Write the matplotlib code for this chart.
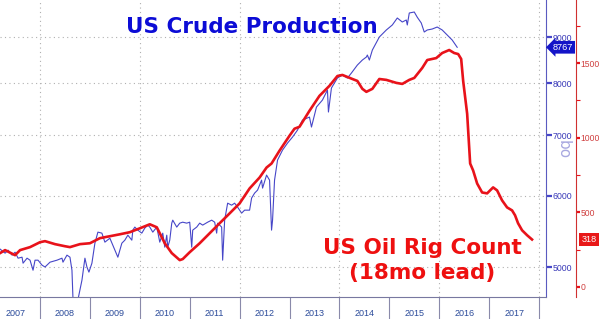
import matplotlib
matplotlib.use('Agg')
import matplotlib.pyplot as plt
import matplotlib.ticker as ticker
import numpy as np

# US crude production (kb/d), weekly-ish readings, decimal years
prod_years = [2007.20, 2007.30, 2007.36, 2007.44, 2007.50, 2007.56, 2007.64, 2007.66, 2007.74, 2007.80,
              2007.86, 2007.90, 2007.96, 2008.04, 2008.10, 2008.20, 2008.34, 2008.44, 2008.46, 2008.54,
              2008.60, 2008.64, 2008.68, 2008.72, 2008.76, 2008.84, 2008.90, 2008.94, 2008.98, 2009.04,
              2009.10, 2009.16, 2009.24, 2009.30, 2009.40, 2009.50, 2009.56, 2009.64, 2009.70, 2009.76,
              2009.84, 2009.86, 2009.90, 2009.96, 2010.04, 2010.10, 2010.16, 2010.20, 2010.26, 2010.34,
              2010.40, 2010.46, 2010.50, 2010.54, 2010.56, 2010.60, 2010.64, 2010.66, 2010.74, 2010.80,
              2010.86, 2010.94, 2011.00, 2011.04, 2011.06, 2011.14, 2011.20, 2011.26, 2011.36, 2011.44,
              2011.50, 2011.54, 2011.56, 2011.64, 2011.66, 2011.70, 2011.76, 2011.84, 2011.90, 2011.96,
              2012.04, 2012.10, 2012.20, 2012.24, 2012.30, 2012.36, 2012.44, 2012.46, 2012.54, 2012.60,
              2012.64, 2012.66, 2012.70, 2012.76, 2012.86, 2012.96, 2013.06, 2013.16, 2013.26, 2013.40,
              2013.44, 2013.54, 2013.66, 2013.76, 2013.78, 2013.84, 2013.96, 2014.06, 2014.16, 2014.24,
              2014.36, 2014.46, 2014.54, 2014.56, 2014.60, 2014.66, 2014.80, 2014.94, 2015.06, 2015.16,
              2015.26, 2015.34, 2015.36, 2015.40, 2015.50, 2015.56, 2015.64, 2015.70, 2015.76, 2015.86,
              2015.96, 2016.06, 2016.16, 2016.26, 2016.36]
prod_values = [5234, 5180, 5220, 5154, 5193, 5114, 5127, 5049, 5114, 5088,
               4959, 5088, 5088, 5024, 5000, 5062, 5088, 5114, 5062, 5154,
               5127, 4959, 4300, 4350, 4600, 4834, 5114, 5000, 4935, 5049,
               5314, 5466, 5452, 5328, 5382, 5220, 5127, 5314, 5355, 5424,
               5355, 5494, 5537, 5494, 5452, 5523, 5565, 5537, 5466, 5537,
               5328, 5452, 5260, 5424, 5260, 5355, 5593, 5636, 5537, 5593,
               5607, 5593, 5607, 5260, 5494, 5537, 5593, 5565, 5607, 5636,
               5607, 5452, 5593, 5537, 5088, 5636, 5886, 5856, 5886, 5826,
               5738, 5782, 5782, 5963, 6039, 6086, 6243, 6117, 6324, 6243,
               5494, 5636, 6243, 6571, 6741, 6863, 6969, 7095, 7278, 7335,
               7150, 7525, 7661, 7860, 7430, 7900, 8104, 8167, 8104, 8208,
               8378, 8486, 8551, 8595, 8486, 8705, 9000, 9163, 9281, 9448,
               9352, 9400, 9281, 9570, 9594, 9467, 9329, 9116, 9163, 9186,
               9233, 9163, 9046, 8931, 8767]

# US oil rig count, shifted forward 18 months (lead)
rig_years = [2007.20, 2007.30, 2007.50, 2007.60, 2007.80, 2008.00, 2008.10, 2008.30, 2008.50, 2008.60,
             2008.80, 2009.00, 2009.20, 2009.40, 2009.60, 2009.80, 2010.00, 2010.20, 2010.34, 2010.50,
             2010.64, 2010.80, 2010.86, 2011.00, 2011.20, 2011.40, 2011.60, 2011.80, 2012.00, 2012.20,
             2012.40, 2012.54, 2012.64, 2012.80, 2013.00, 2013.10, 2013.20, 2013.40, 2013.60, 2013.80,
             2013.96, 2014.06, 2014.26, 2014.36, 2014.46, 2014.54, 2014.66, 2014.80, 2014.94, 2015.14,
             2015.26, 2015.40, 2015.50, 2015.66, 2015.76, 2015.94, 2016.06, 2016.20, 2016.30, 2016.38,
             2016.44, 2016.48, 2016.56, 2016.62, 2016.68, 2016.76, 2016.86, 2016.96, 2017.02, 2017.08,
             2017.16, 2017.26, 2017.36, 2017.46, 2017.52, 2017.58, 2017.66, 2017.76, 2017.86]
rig_values = [227, 247, 213, 247, 267, 300, 307, 287, 273, 267,
              287, 293, 327, 340, 353, 367, 393, 420, 400, 293,
              227, 180, 187, 233, 293, 360, 427, 493, 560, 660,
              733, 800, 827, 913, 1013, 1060, 1073, 1180, 1280, 1347,
              1413, 1420, 1393, 1380, 1327, 1307, 1327, 1393, 1387, 1367,
              1360, 1387, 1400, 1467, 1520, 1533, 1567, 1587, 1567, 1560,
              1527, 1380, 1160, 827, 780, 693, 633, 627, 647, 667,
              647, 580, 533, 513, 480, 427, 380, 347, 318]

year_labels = ['2007', '2008', '2009', '2010', '2011', '2012', '2013', '2014', '2015', '2016', '2017']
prod_ticks = [5000, 6000, 7000, 8000, 9000]
rig_ticks = [0, 500, 1000, 1500]

blue = '#4646c8'
red = '#e8121a'

# small axis text in an Arial-like face, headlines in DejaVu bold
plt.rcParams['font.family'] = ['Liberation Sans', 'DejaVu Sans']

fig = plt.figure(figsize=(6.0, 3.19), dpi=100)
ax = fig.add_axes([0.0, 22 / 319, 546 / 600, 297 / 319])
ax2 = ax.twinx()

# production on a log scale
ax.plot(prod_years, prod_values, color=blue, lw=0.8)
ax.set_yscale('log')
ax.set_ylim(4631, 9893)
ax.set_xlim(2007.198, 2018.14)

# rig count on the outer right axis
ax2.plot(rig_years, rig_values, color=red, lw=1.9)
ax2.set_ylim(-67, 1922)

# x axis: year separators as long ticks, labels centred on the years
ax.xaxis.set_major_locator(ticker.FixedLocator(np.arange(2008, 2019)))
ax.xaxis.set_major_formatter(ticker.NullFormatter())
ax.xaxis.set_minor_locator(ticker.FixedLocator(np.arange(2007, 2018) + 0.5))
ax.xaxis.set_minor_formatter(ticker.FixedFormatter(year_labels))
ax.tick_params(axis='x', which='major', length=24, width=0.8, color='#8a8aaa', direction='out')
ax.tick_params(axis='x', which='minor', length=0, pad=9, labelsize=6.5, labelcolor='#2a4a9a')

# blue axis on the right
ax.yaxis.tick_right()
ax.yaxis.set_major_locator(ticker.FixedLocator(prod_ticks))
ax.yaxis.set_major_formatter(ticker.FixedFormatter([str(t) for t in prod_ticks]))
ax.yaxis.set_minor_locator(ticker.NullLocator())
ax.tick_params(axis='y', which='major', length=4, width=1.6, color=blue, pad=0.8,
               labelsize=6.3, labelcolor='#3a3ab8')

# red axis further out
ax2.spines['right'].set_position(('axes', 576 / 546))
ax2.yaxis.set_major_locator(ticker.FixedLocator(rig_ticks))
ax2.yaxis.set_minor_locator(ticker.FixedLocator([250, 750, 1250, 1750]))
ax2.tick_params(axis='y', which='major', length=3, width=1.6, color=red, pad=0.5,
                labelsize=6.2, labelcolor='#d04040')
ax2.tick_params(axis='y', which='minor', length=3, width=0.8, color=red)

# grid
ax.grid(True, which='major', axis='y', color='#b0b0b0', ls=(0, (1, 3)), lw=0.8)
for yr in [2008, 2010, 2012, 2014, 2016, 2018]:
    ax.axvline(yr, color='#b0b0b0', ls=(0, (1, 3)), lw=0.8)

for s in ['top', 'left']:
    ax.spines[s].set_visible(False)
ax.spines['bottom'].set_color('#7878a0')
ax.spines['right'].set_color('#5a5ac0')
for s in ['top', 'left', 'bottom']:
    ax2.spines[s].set_visible(False)
ax2.spines['right'].set_color('#d03030')

# last value boxes
ax.text(563 / 546, 8767, '8767', transform=ax.get_yaxis_transform(), ha='center', va='center',
        fontsize=6.6, color='white', clip_on=False,
        bbox=dict(boxstyle='larrow,pad=0.2', fc='#1414c8', ec='none'))
ax2.text(589 / 546, 318, '318', transform=ax2.get_yaxis_transform(), ha='center', va='center',
         fontsize=6.6, color='white', clip_on=False,
         bbox=dict(boxstyle='square,pad=0.25', fc='#e81818', ec='none'))

fig.text(563 / 600, 1 - 150 / 319, 'bo', rotation=270, color='#a8a8e0', fontsize=11,
         ha='center', va='center', family='DejaVu Sans')

# annotations
fig.text(252 / 600, 1 - 27 / 319, 'US Crude Production', color='#0c0cd6', fontsize=15.5,
         fontweight='bold', ha='center', va='center', family='DejaVu Sans')
fig.text(422 / 600, 1 - 248 / 319, 'US Oil Rig Count', color='#ee1010', fontsize=15.5,
         fontweight='bold', ha='center', va='center', family='DejaVu Sans')
fig.text(422 / 600, 1 - 273 / 319, '(18mo lead)', color='#ee1010', fontsize=15.5,
         fontweight='bold', ha='center', va='center', family='DejaVu Sans')

fig.savefig('out.png', dpi=100, facecolor='white')
